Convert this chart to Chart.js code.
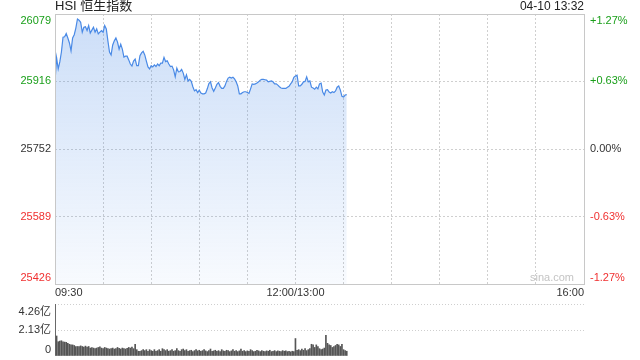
<!DOCTYPE html>
<html>
<head>
<meta charset="utf-8">
<title>HSI 恒生指数</title>
<script src="https://cdn.jsdelivr.net/npm/chart.js@4.4.0/dist/chart.umd.min.js"></script>
<style>
    html, body { margin: 0; padding: 0; background: #ffffff; }
    #wrap { position: relative; width: 640px; height: 360px; overflow: hidden; }
    #price-chart { position: absolute; left: 0; top: 0; }
    #volume-chart { position: absolute; left: 0; top: 296px; }
</style>
</head>
<body>
<div id="wrap">
    <canvas id="price-chart" width="640" height="300"></canvas>
    <canvas id="volume-chart" width="640" height="64"></canvas>
</div>
<script>
// Intraday minute data, 09:30 -> 13:32 (index = minute of trading session)
const prices = [
    25915, 25973, 25946, 25963, 25987, 26023, 26024, 26032, 26021, 26009,
    25990, 26021, 26029, 26045, 26067, 26064, 26059, 26035, 26047, 26048,
    26039, 26051, 26033, 26040, 26047, 26035, 26043, 26031, 26035, 26039,
    26035, 26051, 26043, 26014, 25987, 25980, 26004, 26014, 26021, 26011,
    25994, 26006, 25994, 25975, 25977, 25977, 25968, 25958, 25953, 25965,
    25970, 25954, 25954, 25978, 25985, 25989, 25980, 25965, 25951, 25946,
    25954, 25951, 25956, 25952, 25958, 25954, 25960, 25960, 25974, 25964,
    25966, 25958, 25952, 25953, 25944, 25927, 25948, 25939, 25940, 25945,
    25936, 25921, 25932, 25917, 25921, 25916, 25903, 25893, 25896, 25889,
    25895, 25888, 25886, 25886, 25888, 25898, 25911, 25915, 25900, 25892,
    25900, 25909, 25913, 25904, 25899, 25899, 25905, 25916, 25924, 25926,
    25924, 25926, 25922, 25915, 25905, 25886, 25886, 25889, 25891, 25891,
    25889, 25887, 25898, 25910, 25909, 25910, 25912, 25915, 25919, 25921,
    25921, 25920, 25919, 25915, 25916, 25917, 25915, 25910, 25910, 25907,
    25903, 25900, 25899, 25899, 25899, 25902, 25904, 25910, 25915, 25926,
    25929, 25931, 25905, 25905, 25909, 25915, 25916, 25927, 25915, 25917,
    25902, 25900, 25897, 25902, 25898, 25910, 25912, 25890, 25883, 25895,
    25896, 25890, 25888, 25891, 25889, 25893, 25902, 25905, 25895, 25880,
    25878, 25883, 25884
];

// Volume in 亿 per minute
const volumes = [
    4.26, 1.64, 1.17, 1.22, 1.25, 1.17, 1.14, 1.12, 1.04, 0.96,
    0.91, 0.91, 0.86, 0.78, 0.78, 0.78, 0.83, 0.78, 0.73, 0.81,
    0.73, 0.78, 0.65, 0.70, 0.65, 0.60, 0.65, 0.70, 0.75, 0.65,
    0.60, 0.70, 0.65, 0.60, 0.57, 0.60, 0.65, 0.57, 0.60, 0.70,
    0.62, 0.57, 0.65, 0.60, 0.57, 0.62, 0.70, 0.65, 0.73, 0.60,
    0.96, 0.52, 0.39, 0.39, 0.44, 0.52, 0.44, 0.52, 0.39, 0.52,
    0.44, 0.39, 0.52, 0.39, 0.44, 0.52, 0.39, 0.60, 0.52, 0.44,
    0.52, 0.39, 0.44, 0.52, 0.39, 0.44, 0.60, 0.44, 0.39, 0.52,
    0.57, 0.44, 0.52, 0.39, 0.44, 0.47, 0.36, 0.44, 0.52, 0.42,
    0.47, 0.39, 0.44, 0.52, 0.42, 0.36, 0.44, 0.57, 0.39, 0.42,
    0.47, 0.39, 0.44, 0.36, 0.52, 0.42, 0.39, 0.47, 0.44, 0.36,
    0.42, 0.52, 0.39, 0.44, 0.36, 0.42, 0.57, 0.39, 0.44, 0.36,
    0.42, 0.39, 0.52, 0.44, 0.36, 0.39, 0.47, 0.42, 0.36, 0.44,
    0.39, 0.36, 0.42, 0.39, 0.47, 0.36, 0.39, 0.44, 0.36, 0.42,
    0.39, 0.36, 0.44, 0.39, 0.42, 0.36, 0.39, 0.34, 0.39, 0.36,
    1.43, 0.47, 0.52, 0.44, 0.57, 0.47, 0.60, 0.44, 0.52, 0.60,
    0.96, 0.91, 0.70, 0.91, 0.78, 0.60, 0.52, 0.57, 0.65, 1.69,
    1.04, 0.91, 0.86, 0.70, 0.78, 0.86, 0.96, 0.91, 0.78, 0.96,
    0.52, 0.44, 0.39
];

const priceTicks = [25426, 25589, 25752, 25916, 26079];
const pctTicks = ['-1.27%', '-0.63%', '0.00%', '+0.63%', '+1.27%'];
const volumeTicks = [0, 2.13, 4.26];
const volumeTickLabels = ['0', '2.13亿', '4.26亿'];
const timeTicks = [0, 150, 330];
const timeTickLabels = ['09:30', '12:00/13:00', '16:00'];
const SESSION_MINUTES = 330;

const title = 'HSI 恒生指数';
const stamp = '04-10 13:32';

const FONT = "11px 'Liberation Sans', Arial, 'Noto Sans CJK SC', sans-serif";
const TITLE_FONT = "13px 'Liberation Sans', Arial, 'Noto Sans CJK SC', sans-serif";
const UP = '#1a9f1a';
const DOWN = '#f03030';
const FLAT = '#333333';
const GRID = '#cfcfcf';
const FRAME = '#c8c8c8';

function tickColor(i) {
    if (i === 2) return FLAT;
    return i > 2 ? UP : DOWN;
}

// Draws frame, axis labels and headers on top of the price chart
const priceOverlay = {
    id: 'priceOverlay',
    afterDraw(chart) {
        const { ctx, chartArea: a, scales } = chart;
        ctx.save();
        ctx.strokeStyle = FRAME;
        ctx.lineWidth = 1;
        ctx.strokeRect(a.left + 0.5, a.top + 0.5, a.right - a.left, a.bottom - a.top);

        ctx.font = FONT;
        priceTicks.forEach((v, i) => {
            const y = scales.y.getPixelForValue(v);
            let base = 'middle';
            let ty = y;
            if (i === priceTicks.length - 1) { base = 'top'; ty = y + 1; }
            if (i === 0) { base = 'bottom'; ty = y - 1; }
            ctx.textBaseline = base;
            ctx.fillStyle = tickColor(i);
            ctx.textAlign = 'right';
            ctx.fillText(String(v), a.left - 4, ty);
            ctx.textAlign = 'left';
            ctx.fillText(pctTicks[i], a.right + 6, ty);
        });

        ctx.fillStyle = FLAT;
        ctx.textBaseline = 'top';
        timeTicks.forEach((t, i) => {
            const x = scales.x.getPixelForValue(t);
            ctx.textAlign = i === 0 ? 'left' : (i === timeTicks.length - 1 ? 'right' : 'center');
            ctx.fillText(timeTickLabels[i], x, a.bottom + 3);
        });

        ctx.fillStyle = '#c4c4c4';
        ctx.textAlign = 'right';
        ctx.textBaseline = 'bottom';
        ctx.fillText('sina.com', a.right - 10, a.bottom - 1);

        ctx.fillStyle = '#222222';
        ctx.font = TITLE_FONT;
        ctx.textBaseline = 'bottom';
        ctx.textAlign = 'left';
        ctx.fillText(title, a.left, a.top - 1);
        ctx.font = "12px 'Liberation Sans', Arial, sans-serif";
        ctx.textAlign = 'right';
        ctx.fillText(stamp, a.right, a.top - 1);
        ctx.restore();
    }
};

const volumeOverlay = {
    id: 'volumeOverlay',
    beforeDatasetsDraw(chart) {
        // left frame line sits under the bars, the first bar covers it
        const { ctx, chartArea: a } = chart;
        ctx.save();
        ctx.strokeStyle = FRAME;
        ctx.beginPath();
        ctx.moveTo(a.left + 0.5, a.top);
        ctx.lineTo(a.left + 0.5, a.bottom);
        ctx.stroke();
        ctx.restore();
    },
    afterDraw(chart) {
        const { ctx, chartArea: a, scales } = chart;
        ctx.save();
        ctx.font = FONT;
        ctx.fillStyle = FLAT;
        ctx.textAlign = 'right';
        volumeTicks.forEach((v, i) => {
            const y = scales.y.getPixelForValue(v);
            let ty = y;
            ctx.textBaseline = 'middle';
            if (i === volumeTicks.length - 1) { ctx.textBaseline = 'top'; ty = y + 2; }
            if (i === 0) { ctx.textBaseline = 'bottom'; ty = y - 1; }
            ctx.fillText(volumeTickLabels[i], a.left - 4, ty);
        });
        ctx.restore();
    }
};

const priceCanvas = document.getElementById('price-chart');
const pctx = priceCanvas.getContext('2d');
const fillGrad = pctx.createLinearGradient(0, 30, 0, 284);
fillGrad.addColorStop(0, 'rgba(74, 138, 230, 0.27)');
fillGrad.addColorStop(1, 'rgba(74, 138, 230, 0.04)');

new Chart(priceCanvas, {
    type: 'line',
    data: {
        datasets: [{
            data: prices.map((p, i) => ({ x: i, y: p })),
            borderColor: '#4a8ae6',
            borderWidth: 1.2,
            backgroundColor: fillGrad,
            fill: 'start',
            pointRadius: 0,
            tension: 0
        }]
    },
    options: {
        responsive: false,
        animation: false,
        events: [],
        layout: { padding: { left: 55, right: 56, top: 14, bottom: 16 } },
        plugins: { legend: { display: false }, tooltip: { enabled: false } },
        scales: {
            x: {
                type: 'linear',
                min: 0,
                max: SESSION_MINUTES,
                ticks: { display: false, stepSize: 30 },
                grid: { color: GRID, drawTicks: false },
                border: { display: false, dash: [2, 2] }
            },
            y: {
                min: priceTicks[0],
                max: priceTicks[priceTicks.length - 1],
                afterBuildTicks: (scale) => { scale.ticks = priceTicks.map(v => ({ value: v })); },
                ticks: { display: false },
                grid: { color: GRID, drawTicks: false },
                border: { display: false, dash: [2, 2] }
            }
        }
    },
    plugins: [priceOverlay]
});

new Chart(document.getElementById('volume-chart'), {
    type: 'bar',
    data: {
        datasets: [{
            data: volumes.map((v, i) => ({ x: i, y: v })),
            backgroundColor: '#555555',
            barThickness: 1
        }]
    },
    options: {
        responsive: false,
        animation: false,
        events: [],
        layout: { padding: { left: 55, right: 56, top: 8, bottom: 4 } },
        plugins: { legend: { display: false }, tooltip: { enabled: false } },
        scales: {
            x: {
                type: 'linear',
                min: 0,
                max: SESSION_MINUTES,
                offset: false,
                ticks: { display: false },
                grid: { display: false, drawTicks: false },
                border: { display: false }
            },
            y: {
                min: 0,
                max: volumeTicks[volumeTicks.length - 1],
                afterBuildTicks: (scale) => { scale.ticks = volumeTicks.map(v => ({ value: v })); },
                ticks: { display: false },
                grid: {
                    color: (c) => (c.tick && c.tick.value === 0 ? 'rgba(0,0,0,0)' : GRID),
                    drawTicks: false
                },
                border: { display: false, dash: [1, 2] }
            }
        }
    },
    plugins: [volumeOverlay]
});
</script>
</body>
</html>
